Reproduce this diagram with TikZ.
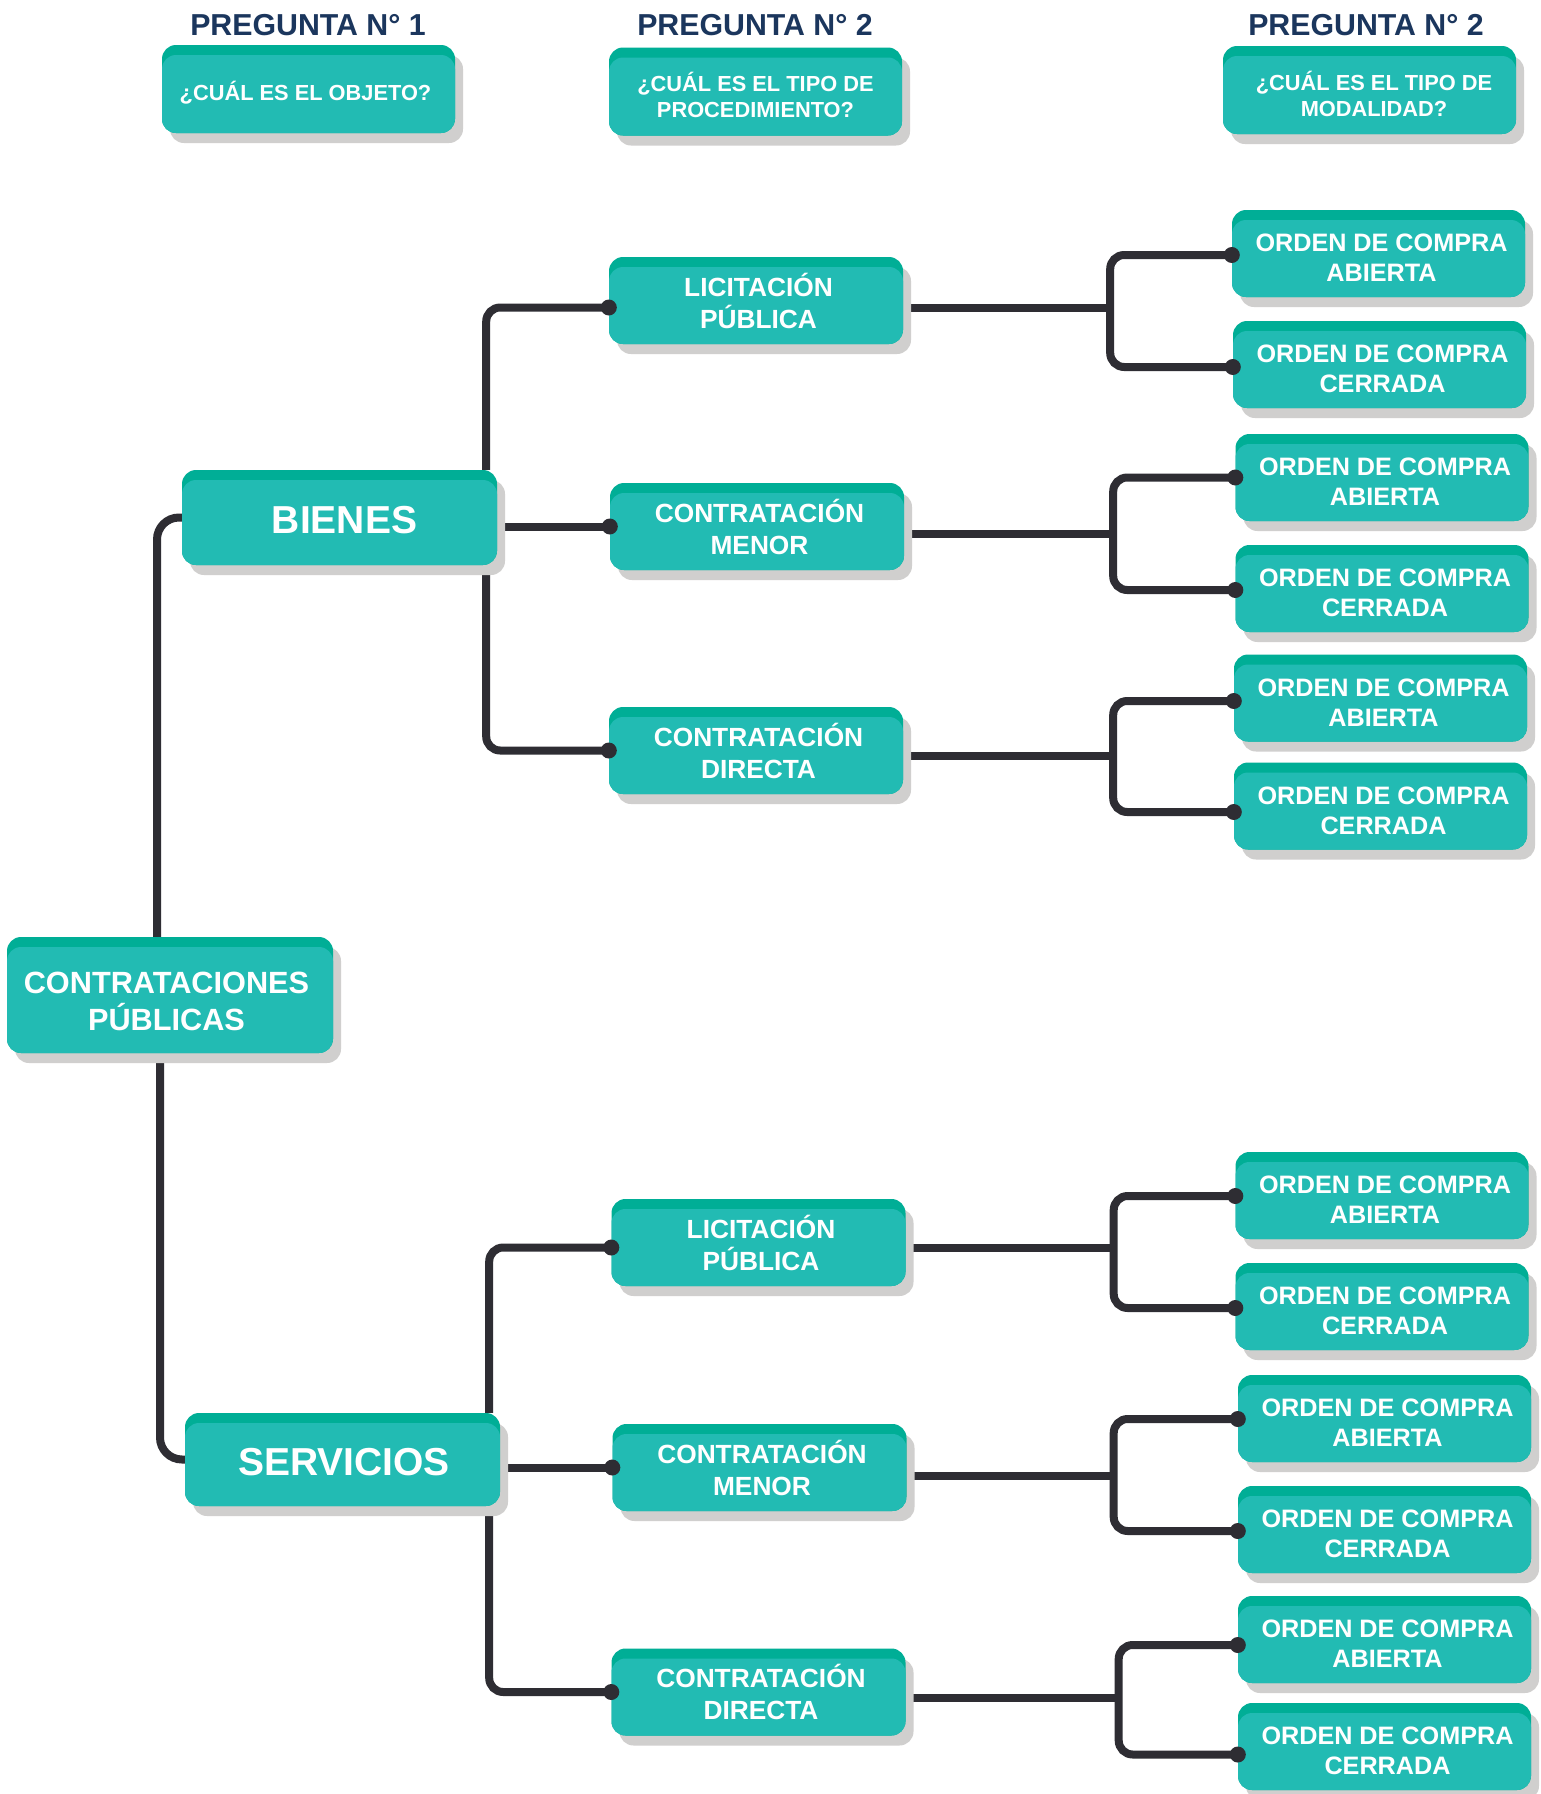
\documentclass[tikz,border=0pt]{standalone}
\usepackage{fontspec}
\setmainfont{Liberation Sans}
\usetikzlibrary{shadows,calc}
\definecolor{tealdark}{RGB}{0,174,150}
\definecolor{tealmain}{RGB}{34,187,179}
\definecolor{shadowgrey}{RGB}{208,207,206}
\definecolor{linecol}{RGB}{46,45,51}
\definecolor{navy}{RGB}{27,54,93}
\pgfdeclarelayer{bg}
\pgfsetlayers{bg,main}
% box node (no text) + its text node
\newcommand\bx[5]{\node[#1] (#3) at #4 {}; \node[#2] (#3t) at (#3.center) {#5};}
\begin{document}
\begin{tikzpicture}[x=1pt,y=-1pt,
  box/.style={rounded corners=14pt, fill=tealdark, draw=none, inner sep=0pt,
    minimum width=293pt, minimum height=87pt,
    drop shadow={shadow xshift=8pt, shadow yshift=-10pt, fill=shadowgrey, opacity=1},
    path picture={\fill[tealmain, rounded corners=14pt] ([yshift=-10pt]path picture bounding box.north west) rectangle (path picture bounding box.south east);}},
  lvl2/.style={box, minimum width=294pt},
  head/.style={box, minimum height=88pt},
  txt/.style={text=white, align=center, inner sep=0pt},
  tO/.style={txt, font=\bfseries\fontsize{25.2}{30}\selectfont, xshift=3pt, yshift=-4.5pt},
  tL/.style={txt, font=\bfseries\fontsize{26.3}{32}\selectfont, xshift=2.5pt},
  tH/.style={txt, font=\bfseries\fontsize{21.8}{26}\selectfont, yshift=-3.5pt},
  tCP/.style={txt, font=\bfseries\fontsize{30.7}{37}\selectfont, xshift=-3.5pt, yshift=-6.5pt},
  tBig/.style={txt, font=\bfseries\fontsize{39}{44}\selectfont, yshift=-3pt},
  title/.style={text=navy, font=\bfseries\fontsize{30.3}{36}\selectfont, inner sep=0pt},
  conn/.style={draw=linecol, line width=8pt, rounded corners=14pt},
  dotc/.style={fill=linecol}
]
\useasboundingbox (0,0) rectangle (1541,1794);
\begin{pgfonlayer}{bg}
\fill[white] (0,0) rectangle (1541,1794);
\end{pgfonlayer}

% headers
\node[title] (t1) at (308,25) {PREGUNTA N° 1};
\node[title] (t2) at (755,25) {PREGUNTA N° 2};
\node[title] (t3) at (1366,25) {PREGUNTA N° 2};
\bx{head}{tH,xshift=-3pt}{h1}{(308.5,89)}{¿CUÁL ES EL OBJETO?}
\bx{head}{tH}{h2}{(755.5,91.5)}{¿CUÁL ES EL TIPO DE\\PROCEDIMIENTO?}
\bx{head}{tH,xshift=4.5pt}{h3}{(1369.5,90)}{¿CUÁL ES EL TIPO DE\\MODALIDAD?}

% main nodes
\bx{box, minimum width=326pt, minimum height=116pt}{tCP}{cp}{(170,995)}{CONTRATACIONES\\PÚBLICAS}
\bx{box, minimum width=315pt, minimum height=95pt}{tBig,xshift=5pt}{bienes}{(339.5,517.5)}{BIENES}
\bx{box, minimum width=315pt, minimum height=93pt}{tBig,xshift=1.5pt}{servicios}{(342.5,1459.5)}{SERVICIOS}

% level 2
\bx{lvl2}{tL}{lp1}{(756,300.5)}{LICITACIÓN\\PÚBLICA}
\bx{lvl2}{tL}{cm1}{(757,526.5)}{CONTRATACIÓN\\MENOR}
\bx{lvl2}{tL}{cd1}{(756,750.5)}{CONTRATACIÓN\\DIRECTA}
\bx{lvl2}{tL}{lp2}{(758.5,1242.5)}{LICITACIÓN\\PÚBLICA}
\bx{lvl2}{tL}{cm2}{(759.5,1467.5)}{CONTRATACIÓN\\MENOR}
\bx{lvl2}{tL}{cd2}{(758.5,1692)}{CONTRATACIÓN\\DIRECTA}

% level 3
\bx{box}{tO}{o1}{(1378.5,253.5)}{ORDEN DE COMPRA\\ABIERTA}
\bx{box}{tO}{o2}{(1379.5,364.5)}{ORDEN DE COMPRA\\CERRADA}
\bx{box}{tO}{o3}{(1382,477.5)}{ORDEN DE COMPRA\\ABIERTA}
\bx{box}{tO}{o4}{(1382,588.5)}{ORDEN DE COMPRA\\CERRADA}
\bx{box}{tO}{o5}{(1380.5,698)}{ORDEN DE COMPRA\\ABIERTA}
\bx{box}{tO}{o6}{(1380.5,806)}{ORDEN DE COMPRA\\CERRADA}
\bx{box}{tO}{o7}{(1382,1195.5)}{ORDEN DE COMPRA\\ABIERTA}
\bx{box}{tO}{o8}{(1382,1306.5)}{ORDEN DE COMPRA\\CERRADA}
\bx{box}{tO}{o9}{(1384.5,1418.5)}{ORDEN DE COMPRA\\ABIERTA}
\bx{box}{tO}{o10}{(1384.5,1529.5)}{ORDEN DE COMPRA\\CERRADA}
\bx{box}{tO}{o11}{(1384.5,1639.5)}{ORDEN DE COMPRA\\ABIERTA}
\bx{box}{tO}{o12}{(1384.5,1746.5)}{ORDEN DE COMPRA\\CERRADA}

% connection points (slightly below box centres, as in the original)
\coordinate (lp1a) at ([yshift=-7pt]lp1.west);
\coordinate (lp1b) at ([yshift=-7pt]lp1.east);
\coordinate (lp2a) at ([yshift=-5pt]lp2.west);
\coordinate (lp2b) at ([yshift=-5pt]lp2.east);
\coordinate (cm1b) at ([yshift=-7pt]cm1.east);
\coordinate (cd1b) at ([yshift=-5.5pt]cd1.east);
\coordinate (cm2b) at ([yshift=-8pt]cm2.east);
\coordinate (cd2b) at ([yshift=-5.5pt]cd2.east);
\foreach \n/\d in {o1/-1.5,o2/-2.5,o3/0,o4/-1.5,o5/-3,o6/-6,o7/-0.5,o8/-1.5,o9/-0.5,o10/-1.5,o11/-5.5,o12/-8}{
  \coordinate (\n a) at ([yshift=\d pt]\n.west);
}

\begin{pgfonlayer}{bg}
% root
\draw[conn, rounded corners=22pt] ([xshift=-13pt]cp.north) |- (bienes.west);
\draw[conn, rounded corners=22pt] ([xshift=-10pt]cp.south) |- (servicios.west);
% bienes
\draw[conn] ([xshift=-11pt]bienes.north east) |- (lp1a);
\draw[conn] ([xshift=-11pt]bienes.south east) |- (cd1.west);
\draw[conn] (bienes.east |- cm1.west) -- (cm1.west);
% servicios
\draw[conn] ([xshift=-11pt]servicios.north east) |- (lp2a);
\draw[conn] ([xshift=-11pt]servicios.south east) |- (cd2.west);
\draw[conn] (servicios.east |- cm2.west) -- (cm2.west);
% level 2 to 3
\draw[conn] (lp1b) -- ++(207pt,0) coordinate (j1);
\draw[conn] (o1a) -| (j1) |- (o2a);
\draw[conn] (cm1b) -- ++(209pt,0) coordinate (j2);
\draw[conn] (o3a) -| (j2) |- (o4a);
\draw[conn] (cd1b) -- ++(210pt,0) coordinate (j3);
\draw[conn] (o5a) -| (j3) |- (o6a);
\draw[conn] (lp2b) -- ++(208pt,0) coordinate (j4);
\draw[conn] (o7a) -| (j4) |- (o8a);
\draw[conn] (cm2b) -- ++(207pt,0) coordinate (j5);
\draw[conn] (o9a) -| (j5) |- (o10a);
\draw[conn] (cd2b) -- ++(213pt,0) coordinate (j6);
\draw[conn] (o11a) -| (j6) |- (o12a);
\end{pgfonlayer}

% dots
\foreach \n in {lp1a,lp2a,cm1.west,cd1.west,cm2.west,cd2.west,o1a,o2a,o3a,o4a,o5a,o6a,o7a,o8a,o9a,o10a,o11a,o12a}{
  \fill[dotc] (\n) circle (8pt);
}
\end{tikzpicture}
\end{document}
